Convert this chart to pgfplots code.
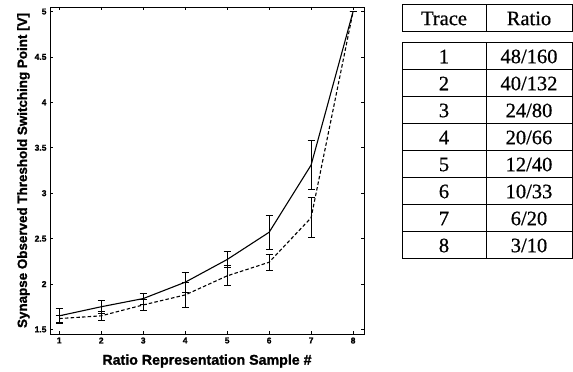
\documentclass[border=0pt]{standalone}
\usepackage{fontspec}
\setmainfont{Liberation Sans}
\newfontfamily\tabfont{Liberation Serif}[FakeBold=0.6]
\newfontfamily\heavy{Liberation Sans}[BoldFeatures={FakeBold=1.2}]
\usepackage{pgfplots}
\pgfplotsset{compat=1.18}
\begin{document}
\begin{tikzpicture}[x=1pt,y=1pt]
\path[use as bounding box] (0,0) rectangle (573,372);
\begin{axis}[
  at={(50pt,38pt)}, anchor=south west,
  width=314pt, height=327pt, scale only axis,
  xmin=0.78, xmax=8.26, ymin=1.45, ymax=5.05,
  xtick={1,2,3,4,5,6,7,8},
  ytick={1.5,2,2.5,3,3.5,4,4.5,5},
  /pgf/number format/assume math mode=true,
  tick label style={font=\heavy\bfseries\fontsize{8.5}{9}\selectfont},
  axis line style={line width=0.9pt},
  major tick length=3pt,
  tick style={black, line width=0.6pt},
  xlabel={Ratio Representation Sample \#},
  ylabel={Synapse Observed Threshold Switching Point [V]},
  xlabel style={font=\heavy\bfseries\fontsize{14.2}{15}\selectfont, yshift=-4pt},
  ylabel style={font=\heavy\bfseries\fontsize{13.4}{14}\selectfont, yshift=-2pt},
  clip=false,
]
\addplot[black, line width=1.1pt, mark=none,
  error bars/.cd, y dir=both, y explicit,
  error bar style={line width=0.8pt, solid},
  error mark options={rotate=90, mark size=3.5pt, line width=0.8pt, solid}]
  coordinates {
  (1,1.65) +- (0,0.08)
  (2,1.75) +- (0,0.07)
  (3,1.84) +- (0,0.06)
  (4,2.02) +- (0,0.11)
  (5,2.27) +- (0,0.09)
  (6,2.57) +- (0,0.19)
  (7,3.31) +- (0,0.27)
  (8,5.00) +- (0,0.00)
  };
\addplot[black, line width=1.1pt, dash pattern=on 3.5pt off 2.2pt, mark=none,
  error bars/.cd, y dir=both, y explicit,
  error bar style={line width=0.8pt, solid},
  error mark options={rotate=90, mark size=3.5pt, line width=0.8pt, solid}]
  coordinates {
  (1,1.62) +- (0,0.04)
  (2,1.65) +- (0,0.05)
  (3,1.77) +- (0,0.06)
  (4,1.88) +- (0,0.14)
  (5,2.09) +- (0,0.11)
  (6,2.24) +- (0,0.09)
  (7,2.73) +- (0,0.22)
  (8,5.00) +- (0,0.00)
  };
\end{axis}
% table
\begin{scope}[line width=1pt]
\draw (402,367) rectangle (572,340);
\draw (486,367) -- (486,340);
\draw (402,329) rectangle (572,113);
\draw (486,329) -- (486,113);
\foreach \k in {1,...,7} {\draw (402,329-27*\k) -- (572,329-27*\k);}
\end{scope}
\begin{scope}[font=\tabfont\fontsize{20.5}{21}\selectfont]
\node at (444,353.5) {Trace};
\node at (529,353.5) {Ratio};
\foreach \t/\r [count=\i] in {1/48\slash 160,2/40\slash 132,3/24\slash 80,4/20\slash 66,5/12\slash 40,6/10\slash 33,7/6\slash 20,8/3\slash 10} {
  \node at (444,329-27*\i+13.5) {\t};
  \node at (529,329-27*\i+13.5) {\r};
}
\end{scope}
\end{tikzpicture}
\end{document}
